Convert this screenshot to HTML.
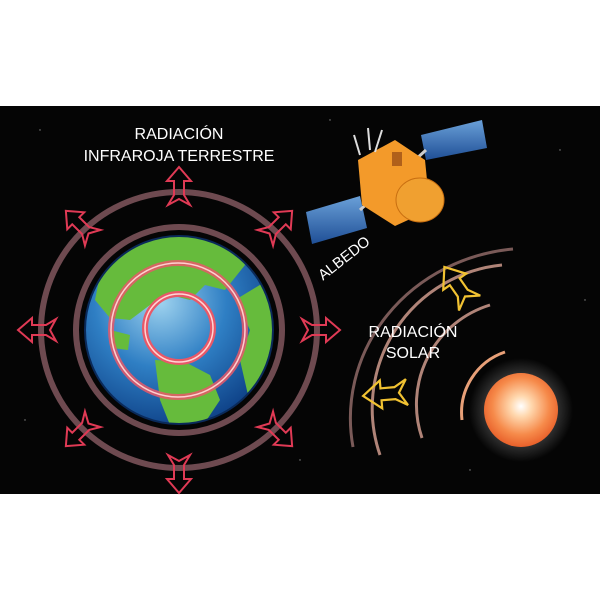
<!DOCTYPE html>
<html><head><meta charset="utf-8"><style>
html,body{margin:0;padding:0;background:#fff;width:600px;height:600px;overflow:hidden}
svg{display:block}
text{font-family:"Liberation Sans",sans-serif;fill:#fff}
</style></head><body>
<svg width="600" height="600" viewBox="0 0 600 600">
<defs>
<radialGradient id="earthG" cx="0.4" cy="0.35" r="0.7"><stop offset="0" stop-color="#9fd3ef"/><stop offset="0.5" stop-color="#2f7fc4"/><stop offset="1" stop-color="#0d3f85"/></radialGradient>
<radialGradient id="sunG" cx="0.5" cy="0.45" r="0.55"><stop offset="0" stop-color="#fff"/><stop offset="0.25" stop-color="#ffd9b0"/><stop offset="0.7" stop-color="#f68a4a"/><stop offset="1" stop-color="#e8602a"/></radialGradient>
<radialGradient id="glowG"><stop offset="0.55" stop-color="#ffffff" stop-opacity="0.25"/><stop offset="1" stop-color="#ffffff" stop-opacity="0"/></radialGradient>
<linearGradient id="panelG" x1="0" y1="0" x2="0" y2="1"><stop offset="0" stop-color="#6aa0d8"/><stop offset="1" stop-color="#1f4f96"/></linearGradient>
<clipPath id="earthClip"><circle cx="179" cy="330" r="94"/></clipPath>
<g id="redArrow"><path d="M0,-20 L-12,-6 L-5,-6 L-5,8 L-11,18 L0,12 L11,18 L5,8 L5,-6 L12,-6 Z" fill="none" stroke="#e03a55" stroke-width="2"/></g>
<g id="yelArrow"><path d="M0,-22 L-14,-4 L-6,-4 L-6,10 L-13,22 L0,14 L13,22 L6,10 L6,-4 L14,-4 Z" fill="none" stroke="#f1c232" stroke-width="2.2"/></g>
</defs>
<rect x="0" y="106" width="600" height="388" fill="#050505"/>
<g fill="#888">
<circle cx="40" cy="130" r="0.7"/><circle cx="300" cy="460" r="0.7"/><circle cx="560" cy="150" r="0.7"/><circle cx="470" cy="470" r="0.7"/><circle cx="25" cy="420" r="0.7"/><circle cx="330" cy="120" r="0.7"/><circle cx="585" cy="300" r="0.7"/>
</g>
<g>
<circle cx="179" cy="330" r="94" fill="url(#earthG)"/>
<g clip-path="url(#earthClip)" fill="#66bb3c">
<path d="M120,250 C150,228 200,228 230,240 L245,265 L225,290 L205,285 L190,300 L170,295 L150,305 L130,320 L110,318 L95,300 L100,275 Z"/>
<path d="M235,300 L268,280 L275,330 L262,380 L248,395 L240,360 L250,330 Z"/>
<path d="M155,360 L185,362 L210,375 L220,400 L200,430 L170,425 L160,400 Z"/>
<path d="M110,330 L130,335 L128,350 L112,348 Z"/>
</g>
<circle cx="179" cy="330" r="94" fill="none" stroke="#0a2a5a" stroke-width="2"/>
</g>
<g fill="none">
<circle cx="178" cy="330" r="67" stroke="#e85868" stroke-width="6" opacity="0.85"/>
<circle cx="178" cy="330" r="67" stroke="#ffd0d0" stroke-width="1.5"/>
<circle cx="179" cy="328" r="34" stroke="#e85868" stroke-width="6"/>
<circle cx="179" cy="328" r="34" stroke="#ffd6d6" stroke-width="1.5"/>
<circle cx="179" cy="330" r="103" stroke="#6e4a50" stroke-width="6"/>
<circle cx="179" cy="330" r="138" stroke="#6e4a50" stroke-width="6"/>
</g>
<g>
<use href="#redArrow" transform="translate(179,187)"/>
<use href="#redArrow" transform="translate(179,473) rotate(180)"/>
<use href="#redArrow" transform="translate(38,330) rotate(-90)"/>
<use href="#redArrow" transform="translate(320,330) rotate(90)"/>
<use href="#redArrow" transform="translate(80,225) rotate(-45)"/>
<use href="#redArrow" transform="translate(278,225) rotate(45)"/>
<use href="#redArrow" transform="translate(80,432) rotate(-135)"/>
<use href="#redArrow" transform="translate(278,432) rotate(135)"/>
</g>
<text x="179" y="139" font-size="16" text-anchor="middle">RADIACIÓN</text>
<text x="179" y="161" font-size="16" text-anchor="middle">INFRAROJA TERRESTRE</text>
<g>
<path d="M306,212 L360,196 L367,228 L312,244 Z" fill="url(#panelG)"/>
<path d="M421,135 L482,120 L487,148 L426,160 Z" fill="url(#panelG)"/>
<line x1="360" y1="210" x2="426" y2="150" stroke="#ccc" stroke-width="3"/>
<path d="M358,160 L395,140 L425,160 L430,210 L395,226 L362,205 Z" fill="#f39a2a"/>
<ellipse cx="420" cy="200" rx="24" ry="22" fill="#f0a030" stroke="#c86e10"/>
<rect x="392" y="152" width="10" height="14" fill="#b0601a"/>
<g stroke="#ddd" stroke-width="2"><line x1="360" y1="155" x2="354" y2="135"/><line x1="370" y1="150" x2="368" y2="128"/><line x1="375" y1="152" x2="382" y2="130"/></g>
</g>
<text x="0" y="0" font-size="15" transform="translate(347,262) rotate(-38)" text-anchor="middle">ALBEDO</text>
<g fill="none" stroke="#b08478" stroke-width="3">
<path d="M505,352 A64,64 0 0 0 462,420" stroke="#e8a078"/>
<path d="M490,305 A104,104 0 0 0 422,438"/>
<path d="M502,265 A144,144 0 0 0 380,455"/>
<path d="M513,249 A180,170 0 0 0 353,447" stroke="#7a5a58"/>
</g>
<use href="#yelArrow" transform="translate(457,285) rotate(-35)"/>
<use href="#yelArrow" transform="translate(385,394) rotate(-95)"/>
<text x="413" y="337" font-size="16" text-anchor="middle">RADIACIÓN</text>
<text x="413" y="358" font-size="16" text-anchor="middle">SOLAR</text>
<circle cx="521" cy="410" r="52" fill="url(#glowG)"/>
<circle cx="521" cy="410" r="37" fill="url(#sunG)"/>
</svg>
</body></html>
